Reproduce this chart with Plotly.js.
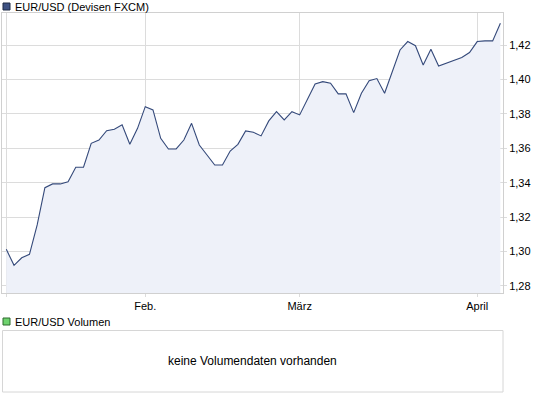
<!DOCTYPE html>
<html>
<head>
<meta charset="utf-8">
<script src="https://cdn.plot.ly/plotly-3.0.1.min.js"></script>
<style>html,body{margin:0;padding:0;background:#fff;}#chart{width:545px;height:398px;}</style>
</head>
<body>
<div id="chart"></div>
<script>
// Trading days (weekdays) Jan 6 – Apr 6, 2011
var dates = [
 "2011-01-06","2011-01-07","2011-01-10","2011-01-11","2011-01-12","2011-01-13","2011-01-14",
 "2011-01-17","2011-01-18","2011-01-19","2011-01-20","2011-01-21","2011-01-24","2011-01-25",
 "2011-01-26","2011-01-27","2011-01-28","2011-01-31",
 "2011-02-01","2011-02-02","2011-02-03","2011-02-04","2011-02-07","2011-02-08","2011-02-09",
 "2011-02-10","2011-02-11","2011-02-14","2011-02-15","2011-02-16","2011-02-17","2011-02-18",
 "2011-02-21","2011-02-22","2011-02-23","2011-02-24","2011-02-25","2011-02-28",
 "2011-03-01","2011-03-02","2011-03-03","2011-03-04","2011-03-07","2011-03-08","2011-03-09",
 "2011-03-10","2011-03-11","2011-03-14","2011-03-15","2011-03-16","2011-03-17","2011-03-18",
 "2011-03-21","2011-03-22","2011-03-23","2011-03-24","2011-03-25","2011-03-28","2011-03-29",
 "2011-03-30","2011-03-31",
 "2011-04-01","2011-04-04","2011-04-05","2011-04-06"
];
var eurusd = [
 1.3013,1.2920,1.2964,1.2984,1.3155,1.3371,1.3393,
 1.3393,1.3406,1.3490,1.3490,1.3629,1.3648,1.3702,
 1.3711,1.3737,1.3623,1.3716,
 1.3842,1.3823,1.3658,1.3596,1.3596,1.3648,1.3745,
 1.3619,1.3561,1.3503,1.3503,1.3584,1.3623,1.3701,
 1.3693,1.3672,1.3759,1.3813,1.3765,1.3813,
 1.3794,1.3881,1.3974,1.3987,1.3978,1.3916,1.3916,
 1.3807,1.3920,1.3993,1.4005,1.3920,1.4049,1.4171,
 1.4220,1.4196,1.4084,1.4175,1.4078,1.4094,1.4109,
 1.4127,1.4156,
 1.4220,1.4224,1.4224,1.4326
];
var xTickVals = ["2011-01-06","2011-02-01","2011-03-01","2011-04-01"];
var xTickText = ["","Feb.","März","April"];
var seriesName = "EUR/USD (Devisen FXCM)";
var volumeName = "EUR/USD Volumen";
var noVolumeText = "keine Volumendaten vorhanden";

var W = 545, H = 398;
var mL = 2, mR = 42, mT = 13, mB = 105;
var pw = W - mL - mR, ph = H - mT - mB;
function fx(px){ return (px - mL) / pw; }
function fy(py){ return (mT + ph - py) / ph; }

var font = "Liberation Sans, Arial, sans-serif";

var trace = {
  x: dates, y: eurusd, type: "scatter", mode: "lines",
  line: {color: "#34497a", width: 1.1},
  fill: "tozeroy", fillcolor: "#eef1f9",
  hoverinfo: "skip"
};

var layout = {
  width: W, height: H,
  margin: {l: mL, r: mR, t: mT, b: mB, pad: 0},
  paper_bgcolor: "#ffffff", plot_bgcolor: "#ffffff",
  showlegend: false,
  separators: ",.",
  font: {family: font, size: 11, color: "#000"},
  xaxis: {
    type: "category",
    range: [-0.557, 64.34],
    tickmode: "array", tickvals: xTickVals, ticktext: xTickText,
    showgrid: true, gridcolor: "#dcdcdc", gridwidth: 1,
    ticks: "outside", ticklen: 3, tickcolor: "#dcdcdc",
    showline: true, linecolor: "#d0d0d0", linewidth: 1, mirror: true,
    tickfont: {family: font, size: 11, color: "#000"},
    zeroline: false, fixedrange: true
  },
  yaxis: {
    side: "right",
    range: [1.27593, 1.43859],
    tick0: 1.28, dtick: 0.02, tickformat: ".2f",
    showgrid: true, gridcolor: "#dcdcdc", gridwidth: 1,
    ticks: "outside", ticklen: 3, tickcolor: "#dcdcdc",
    showline: true, linecolor: "#d0d0d0", linewidth: 1, mirror: true,
    tickfont: {family: font, size: 11, color: "#000"},
    zeroline: false, fixedrange: true
  },
  shapes: [
    {type: "rect", xref: "paper", yref: "paper",
     x0: fx(3), x1: fx(10), y0: fy(10), y1: fy(3),
     fillcolor: "#3e5283", line: {color: "#1f2a44", width: 1}},
    {type: "rect", xref: "paper", yref: "paper",
     x0: fx(3), x1: fx(10), y0: fy(325), y1: fy(318),
     fillcolor: "#6fd36f", line: {color: "#2f6a2f", width: 1}},
    {type: "rect", xref: "paper", yref: "paper",
     x0: fx(2.5), x1: fx(503), y0: fy(392), y1: fy(330.5),
     fillcolor: "rgba(0,0,0,0)", line: {color: "#d6d6d6", width: 1}}
  ],
  annotations: [
    {xref: "paper", yref: "paper", x: fx(13), y: fy(7), xanchor: "left", yanchor: "middle",
     text: seriesName, showarrow: false, font: {family: font, size: 11, color: "#000"}},
    {xref: "paper", yref: "paper", x: fx(13), y: fy(322), xanchor: "left", yanchor: "middle",
     text: volumeName, showarrow: false, font: {family: font, size: 11, color: "#000"}},
    {xref: "paper", yref: "paper", x: fx(252), y: fy(361), xanchor: "center", yanchor: "middle",
     text: noVolumeText, showarrow: false, font: {family: font, size: 12, color: "#000"}}
  ]
};

Plotly.newPlot("chart", [trace], layout, {staticPlot: true, displayModeBar: false});
</script>
</body>
</html>
